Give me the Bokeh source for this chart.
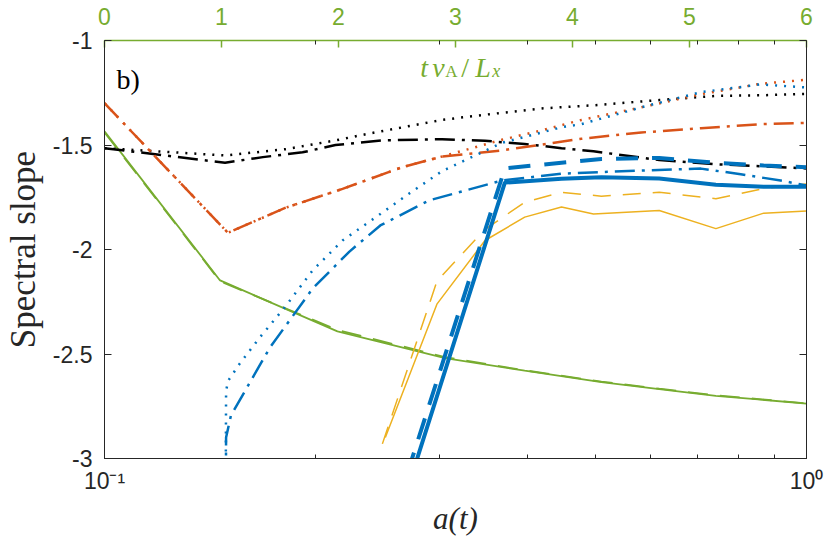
import math
from bokeh.plotting import figure
from bokeh.models import Range1d, LinearAxis, FixedTicker, LinearScale, Label
from bokeh.embed import file_html
from bokeh.resources import INLINE

# ---------------- data (a(t) on x, spectral slope on y) ----------------
black_dot_a = [0.1, 0.1485, 0.1812, 0.2133, 0.2384, 0.3026, 0.3483, 0.4195, 0.4972, 0.6169, 0.7429, 0.8691, 1.0]
black_dot_s = [-1.515, -1.55, -1.52, -1.478, -1.445, -1.38, -1.355, -1.325, -1.31, -1.285, -1.265, -1.262, -1.255]

black_dd_a = [0.1, 0.1485, 0.1681, 0.1915, 0.2133, 0.2488, 0.3026, 0.3483, 0.3968, 0.4477, 0.4972, 0.6169, 0.7429, 0.8691, 1.0]
black_dd_s = [-1.515, -1.585, -1.558, -1.535, -1.50, -1.478, -1.472, -1.48, -1.495, -1.515, -1.53, -1.572, -1.592, -1.602, -1.612]

red_dot_a = [0.1, 0.1499, 0.1812, 0.2183, 0.2656, 0.3026, 0.3681, 0.4195, 0.4780, 0.5815, 0.7074, 0.8606, 1.0]
red_dot_s = [-1.30, -1.92, -1.80, -1.71, -1.606, -1.555, -1.475, -1.43, -1.38, -1.32, -1.257, -1.207, -1.188]

red_dd_a = [0.1, 0.1499, 0.1812, 0.2183, 0.2656, 0.3026, 0.3681, 0.4780, 0.5815, 0.7074, 0.8606, 1.0]
red_dd_s = [-1.30, -1.92, -1.80, -1.71, -1.606, -1.555, -1.526, -1.47, -1.44, -1.42, -1.40, -1.394]

blue_dot_a = [0.1485, 0.1490, 0.1499, 0.1559, 0.1665, 0.1806, 0.1979, 0.2183, 0.2431, 0.2717, 0.3026, 0.3681, 0.4477, 0.4780, 0.5815, 0.7074, 0.8606, 1.0]
blue_dot_s = [-4.0, -2.68, -2.63, -2.545, -2.42, -2.277, -2.10, -1.957, -1.847, -1.732, -1.625, -1.49, -1.415, -1.40, -1.32, -1.247, -1.21, -1.225]

blue_dd_a = [0.1485, 0.1490, 0.1514, 0.1720, 0.1979, 0.2233, 0.2471, 0.2900, 0.3681, 0.4477, 0.5815, 0.7074, 0.8060, 0.9187, 1.0]
blue_dd_s = [-4.0, -2.90, -2.794, -2.47, -2.187, -2.01, -1.885, -1.765, -1.67, -1.637, -1.622, -1.613, -1.64, -1.67, -1.694]

blue_solid_a = [0.2512, 0.3718, 0.4477, 0.5103, 0.6169, 0.7429, 0.8691, 1.0]
blue_solid_s = [-3.48, -1.68, -1.662, -1.654, -1.66, -1.69, -1.70, -1.70]

blue_dash_a = [0.2512, 0.3718, 0.4477, 0.5103, 0.6169, 0.7429, 0.8691, 1.0]
blue_dash_s = [-3.40, -1.612, -1.585, -1.567, -1.562, -1.585, -1.598, -1.606]

yellow_solid_a = [0.2512, 0.2977, 0.3483, 0.3968, 0.4477, 0.4972, 0.6169, 0.7429, 0.8691, 1.0]
yellow_solid_s = [-2.90, -2.26, -1.957, -1.845, -1.797, -1.83, -1.813, -1.90, -1.826, -1.816]

yellow_dash_a = [0.2488, 0.2977, 0.3483, 0.3968, 0.4477, 0.5103, 0.6169, 0.7429, 0.8691, 1.0]
yellow_dash_s = [-2.93, -2.15, -1.904, -1.774, -1.726, -1.745, -1.726, -1.757, -1.708, -1.686]

green_a = [0.1, 0.1461, 0.2147, 0.3056, 0.3968, 0.5103, 0.6169, 0.7429, 1.0]
green_solid_s = [-1.435, -2.148, -2.392, -2.52, -2.58, -2.635, -2.668, -2.70, -2.737]
green_dash_s = [-1.44, -2.152, -2.385, -2.515, -2.578, -2.632, -2.666, -2.698, -2.736]

y_ticks = [-3, -2.5, -2, -1.5, -1]
y_tick_labels = ["-3", "-2.5", "-2", "-1.5", "-1"]
x_ticks = [0.1, 1.0]
x_tick_labels = ["10\u207b\u00b9", "10\u2070"]
x_minor_ticks = [0.2, 0.3, 0.4, 0.5, 0.6, 0.7, 0.8, 0.9]
t_ticks = [0, 1, 2, 3, 4, 5, 6]

# ---------------- styles ----------------
BLUE = "#0072BD"; RED = "#D95319"; YELLOW = "#EDB120"; GREEN = "#77AC30"; BLACK = "#000000"
AX = "#262626"
TICK_FONT = "Liberation Sans"
SERIF = "Liberation Serif"

p = figure(width=830, height=546, x_axis_type="log",
           x_range=Range1d(0.1, 1.0), y_range=Range1d(-3, -1),
           output_backend="svg", toolbar_location=None,
           min_border_left=101, min_border_right=24, min_border_top=40, min_border_bottom=88)
p.extra_x_ranges = {"t": Range1d(0, 6)}
p.extra_x_scales = {"t": LinearScale()}
p.xgrid.visible = False
p.ygrid.visible = False
p.outline_line_color = AX
p.background_fill_color = "white"
p.border_fill_color = "white"

# bottom log axis
xa = p.xaxis[0]
xa.ticker = FixedTicker(ticks=x_ticks, minor_ticks=x_minor_ticks)
xa.major_label_overrides = dict(zip(x_ticks, x_tick_labels))
xa.major_tick_in = 7; xa.major_tick_out = 0
xa.minor_tick_in = 4; xa.minor_tick_out = 0
xa.axis_line_color = AX; xa.major_tick_line_color = AX; xa.minor_tick_line_color = AX
xa.major_label_text_font = TICK_FONT; xa.major_label_text_font_size = "23px"
xa.major_label_text_color = AX
xa.major_label_standoff = 9
xa.axis_label = "a(t)"
xa.axis_label_text_font = SERIF; xa.axis_label_text_font_size = "31px"
xa.axis_label_text_font_style = "italic"; xa.axis_label_text_color = AX
xa.axis_label_standoff = 4

# left axis
ya = p.yaxis[0]
ya.ticker = FixedTicker(ticks=y_ticks, minor_ticks=[])
ya.major_label_overrides = dict(zip(y_ticks, y_tick_labels))
ya.major_tick_in = 7; ya.major_tick_out = 0
ya.minor_tick_line_color = None
ya.axis_line_color = AX; ya.major_tick_line_color = AX
ya.major_label_text_font = TICK_FONT; ya.major_label_text_font_size = "23px"
ya.major_label_text_color = AX
ya.major_label_standoff = 12
ya.axis_label = "Spectral slope"
ya.axis_label_text_font = SERIF; ya.axis_label_text_font_size = "35px"
ya.axis_label_text_font_style = "normal"; ya.axis_label_text_color = AX
ya.axis_label_standoff = 7

# right side ticks (box)
ra = LinearAxis(ticker=FixedTicker(ticks=y_ticks, minor_ticks=[]),
                major_tick_in=7, major_tick_out=0, minor_tick_line_color=None,
                axis_line_color=AX, major_tick_line_color=AX,
                major_label_text_font_size="1px", major_label_text_alpha=0,
                major_label_standoff=0)
p.add_layout(ra, "right")

# top linear t axis (green); black minor ticks mirror the log ticks of a(t)
t_minor = [t_ticks[-1] * math.log10(a / x_ticks[0]) for a in x_minor_ticks]
ta = LinearAxis(x_range_name="t", ticker=FixedTicker(ticks=t_ticks, minor_ticks=t_minor),
                major_tick_in=7, major_tick_out=0, minor_tick_in=4, minor_tick_out=0,
                minor_tick_line_color=AX,
                axis_line_color=GREEN, axis_line_width=1.5,
                major_tick_line_color=GREEN, major_tick_line_width=1.5,
                major_label_text_color=GREEN, major_label_text_font=TICK_FONT,
                major_label_text_font_size="23px", major_label_standoff=16)
p.add_layout(ta, "above")

# ---------------- lines ----------------
p.line(green_a, green_solid_s, line_color=GREEN, line_width=1.8)
p.line(green_a, green_dash_s, line_color=GREEN, line_width=1.8, line_dash="20 12")
p.line(yellow_solid_a, yellow_solid_s, line_color=YELLOW, line_width=1.5)
p.line(yellow_dash_a, yellow_dash_s, line_color=YELLOW, line_width=1.5, line_dash="18 12")
p.line(black_dot_a, black_dot_s, line_color=BLACK, line_width=2.5, line_dash="2 7")
p.line(black_dd_a, black_dd_s, line_color=BLACK, line_width=2.5, line_dash="20 7 3 7")
p.line(red_dot_a, red_dot_s, line_color=RED, line_width=2.5, line_dash="2 7")
p.line(red_dd_a, red_dd_s, line_color=RED, line_width=2.5, line_dash="20 7 3 7")
p.line(blue_dot_a, blue_dot_s, line_color=BLUE, line_width=2.5, line_dash="2 7")
p.line(blue_dd_a, blue_dd_s, line_color=BLUE, line_width=2.5, line_dash="20 7 3 7")
p.line(blue_solid_a, blue_solid_s, line_color=BLUE, line_width=4)
p.line(blue_dash_a, blue_dash_s, line_color=BLUE, line_width=4, line_dash="22 14")

# ---------------- annotations ----------------
p.add_layout(Label(x=0.1040, y=-1.1866, text="b)", text_font=SERIF, text_font_size="28px",
                   text_color=BLACK, text_baseline="alphabetic", text_align="left"))

tx, ty = 0.2818, -1.129
pieces = [("t", 0, 0, "italic", "28px"), ("v", 12, 0, "italic", "28px"),
          ("A", 25, -4, "normal", "17px"), ("/", 41, 0, "normal", "28px"),
          ("L", 55, 0, "italic", "28px"), ("x", 72, -4, "italic", "18px")]
for txt, dx, dy, style, size in pieces:
    p.add_layout(Label(x=tx, y=ty, x_offset=dx, y_offset=dy, text=txt,
                       text_font=SERIF, text_font_style=style, text_font_size=size,
                       text_color=GREEN, text_baseline="alphabetic", text_align="left"))

open("out.html", "w").write(file_html(p, INLINE))
